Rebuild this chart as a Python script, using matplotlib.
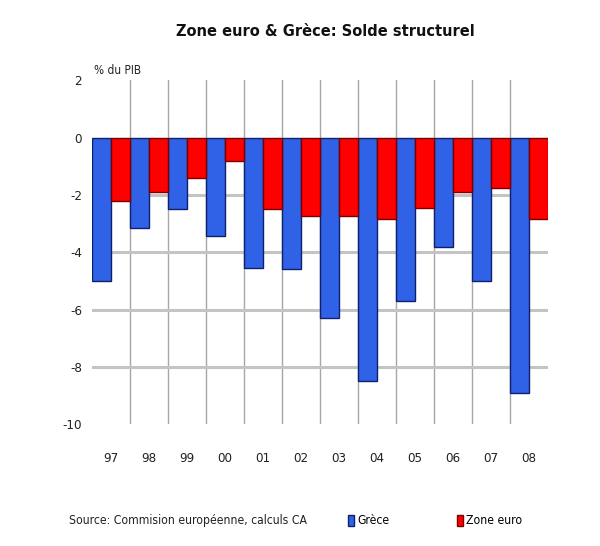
import numpy as np
import matplotlib
matplotlib.use('Agg')
import matplotlib.pyplot as plt
from matplotlib.patches import Patch
from matplotlib import font_manager

years = ['97', '98', '99', '00', '01', '02', '03', '04', '05', '06', '07', '08']
grece = [-5.0, -3.15, -2.5, -3.45, -4.55, -4.6, -6.3, -8.5, -5.7, -3.8, -5.0, -8.9]
zone_euro = [-2.2, -1.9, -1.4, -0.8, -2.5, -2.75, -2.75, -2.85, -2.45, -1.9, -1.75, -2.85]
yticks = [2, 0, -2, -4, -6, -8, -10]

# police condensée si disponible
cond = [f for f in font_manager.fontManager.ttflist
        if ('Condensed' in f.fname or 'Narrow' in f.fname) and f.weight in (700, 'bold')
        and f.style == 'normal']
cond_reg = [f for f in font_manager.fontManager.ttflist
            if ('Condensed' in f.fname or 'Narrow' in f.fname) and f.weight in (400, 'normal')
            and f.style == 'normal']
if cond_reg:
    plt.rcParams['font.family'] = [cond_reg[0].name, 'DejaVu Sans']
    plt.rcParams['font.stretch'] = 'condensed'
else:
    plt.rcParams['font.family'] = ['Liberation Sans', 'DejaVu Sans']

fig = plt.figure(figsize=(6, 5.46), dpi=100)
ax = fig.add_axes([0.153, 0.223, 0.760, 0.630])

x = np.arange(len(years))
w = 0.5
ax.bar(x - w / 2, grece, width=w, color='#2f62e6', edgecolor='#10206a', linewidth=1.0, zorder=3)
ax.bar(x + w / 2, zone_euro, width=w, color='#ff0000', edgecolor='#7a0000', linewidth=1.0, zorder=3)

ax.set_xlim(-0.5, len(years) - 0.5)
ax.set_ylim(-10, 2)

# lignes de grille
for b in np.arange(0.5, len(years) - 0.5, 1):
    ax.axvline(b, color='#a8a8a8', linewidth=1, zorder=1)
for g in [-2, -4, -6, -8]:
    ax.axhline(g, color='#c4c4c4', linewidth=2.2, zorder=1)

ax.set_xticks(x)
ax.set_xticklabels(years)
ax.set_yticks(yticks)
ax.set_yticklabels([str(v) for v in yticks])
ax.tick_params(length=0, labelsize=9.5, colors='#222222')
ax.tick_params(axis='x', pad=20)
ax.tick_params(axis='y', pad=7)
for s in ax.spines.values():
    s.set_visible(False)

if cond:
    tprop = font_manager.FontProperties(fname=cond[0].fname, size=14)
else:
    tprop = font_manager.FontProperties(family='Liberation Sans', weight='bold', size=14)
title = fig.text(0.543, 0.943, 'Zone euro & Grèce: Solde structurel', ha='center', va='center',
                 fontproperties=tprop, color='#111111')
fig.text(0.157, 0.870, '% du PIB', ha='left', va='center', fontsize=8.5, color='#222222')
src = fig.text(0.115, 0.046, 'Source: Commision européenne, calculs CA', ha='left', va='center',
               fontsize=11, color='#222222')

# ajuster la largeur des textes à celle de l'original
r = fig.canvas.get_renderer()
for t, target in [(title, 300), (src, 237)]:
    wpx = t.get_window_extent(r).width
    t.set_fontsize(t.get_fontsize() * target / wpx)

handles = [Patch(facecolor='#2f62e6', edgecolor='#10206a', label='Grèce'),
           Patch(facecolor='#ff0000', edgecolor='#7a0000', label='Zone euro')]
fig.legend(handles=handles, loc='center left', bbox_to_anchor=(0.562, 0.046), ncol=2,
           frameon=False, fontsize=src.get_fontsize(), handlelength=0.5, handleheight=1.0,
           handletextpad=0.25, columnspacing=5.6)

fig.savefig('out.png', dpi=100, facecolor='white')
